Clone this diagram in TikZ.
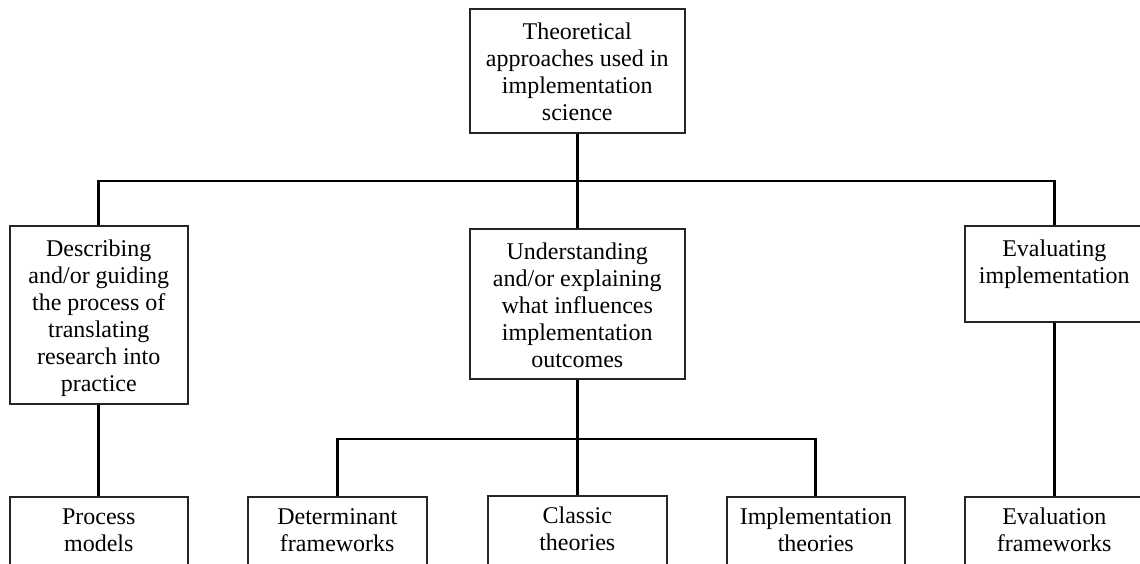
\documentclass[tikz,border=0pt]{standalone}
\usepackage{fontspec}
\setmainfont{Liberation Serif}
% #1 width, #2 height, #3 height of the first line, #4 text
\newcommand\cellbox[4]{\parbox[t][#2pt][t]{#1pt}{\centering\fontsize{24}{27}\selectfont\rule{0pt}{#3pt}#4}}
\begin{document}
\begin{tikzpicture}[x=1pt,y=-1pt,
  box/.style={draw=black!85, line width=1.5pt, inner sep=0pt, anchor=north west},
  link/.style={line width=2.6pt, black}]
\useasboundingbox (0,0) rectangle (1140,563);
\clip (0,0) rectangle (1140,563);

% root
\node[box] (root) at (469,8) {\cellbox{215}{124}{31}{Theoretical\\approaches used in\\implementation\\science}};

% second level
\node[box] (desc) at (9,225) {\cellbox{178}{178}{31}{Describing\\and/or guiding\\the process of\\translating\\research into\\practice}};
\node[box] (und) at (469,228) {\cellbox{215}{150}{31}{Understanding\\and/or explaining\\what influences\\implementation\\outcomes}};
\node[box] (eval) at (964,225) {\cellbox{179}{96}{31}{Evaluating\\implementation}};

% third level
\node[box] (proc) at (9,496) {\cellbox{178}{100}{28}{Process\\models}};
\node[box] (det) at (247,496) {\cellbox{179}{100}{28}{Determinant\\frameworks}};
\node[box] (cls) at (487,495) {\cellbox{179}{100}{28}{Classic\\theories}};
\node[box] (impl) at (726,496) {\cellbox{178}{100}{28}{Implementation\\theories}};
\node[box] (evf) at (964,496) {\cellbox{179}{100}{28}{Evaluation\\frameworks}};

% bus lines
\coordinate (busA) at (0,181);
\coordinate (busB) at (0,439);

\draw[link] (root.south) -- (root.south |- busA);
\draw[link] (desc.north) -- (desc.north |- busA) -| (eval.north);
\draw[link] (und.north) -- (und.north |- busA);

\draw[link] (desc.south) -- (proc.north);
\draw[link] (eval.south) -- (evf.north);

\draw[link] (und.south) -- (und.south |- busB);
\draw[link] (cls.north) -- (cls.north |- busB);
\draw[link] (det.north) -- (det.north |- busB) -| (impl.north);
\end{tikzpicture}
\end{document}
